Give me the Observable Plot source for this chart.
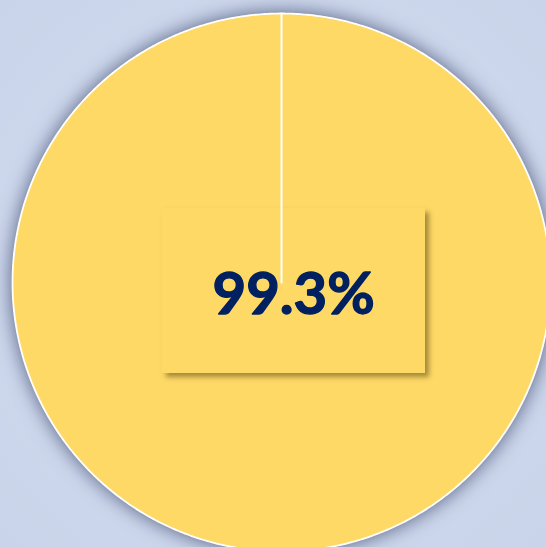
<!DOCTYPE html>
<html>
<head>
<meta charset="utf-8">
<script src="https://cdn.jsdelivr.net/npm/d3@7"></script>
<script src="https://cdn.jsdelivr.net/npm/@observablehq/plot@0.6"></script>
<style>
  html, body { margin: 0; padding: 0; }
  body { width: 546px; height: 547px; overflow: hidden; position: relative;
         background: radial-gradient(circle at 50% 50%, #d4ddf0 0%, #c9d4ea 100%); }
  .layer { position: absolute; left: 0; top: 0; }
  .layer svg { overflow: visible; }
  .pie { filter: drop-shadow(0 0 10px rgba(50, 62, 100, 0.85)); }
  #box { position: absolute; left: 162px; top: 208px; width: 263px; height: 165px;
         background: #ffd966; box-shadow: 4px 4px 5px rgba(90, 75, 20, 0.55); }
</style>
</head>
<body>
<script>
// Data
const categories = ["Share"];
const values = [99.3];
const labels = ["99.3%"];
const sliceColor = "#ffd966";

// Pie outline (full disc with its boundary at 12 o'clock)
const pts = [];
categories.forEach((c) => {
  const a0 = 0, a1 = 2 * Math.PI, n = 720;
  pts.push({cat: c, x: 0, y: 0});
  for (let k = 0; k <= n; k++) {
    const a = a0 + (a1 - a0) * k / n;
    pts.push({cat: c, x: Math.sin(a), y: Math.cos(a)});
  }
  pts.push({cat: c, x: 0, y: 0});
});
const rim = pts.slice(1, -1);
const radius = [{x: 0, y: 0}, {x: 0, y: 1}];

const W = 546, H = 547;
const cx = 281, cy = 282, R = 269;
const scales = {
  width: W, height: H, margin: 0,
  style: {background: "transparent", overflow: "visible"},
  x: {domain: [-1, 1], range: [cx - R, cx + R], axis: null},
  y: {domain: [-1, 1], range: [cy + R, cy - R], axis: null}
};

function addLayer(node) {
  const d = document.createElement("div");
  d.className = "layer";
  d.appendChild(node);
  document.body.appendChild(d);
}

// Layer 1: pie fill with shadow
addLayer(Plot.plot({...scales, marks: [
  Plot.line(pts, {x: "x", y: "y", z: "cat", fill: sliceColor, stroke: "none", curve: "linear", className: "pie"})
]}));

// Layer 2: label box
const box = document.createElement("div");
box.id = "box";
document.body.appendChild(box);

// Layer 3: slice boundary lines + label
addLayer(Plot.plot({...scales, marks: [
  Plot.line(rim, {x: "x", y: "y", stroke: "white", strokeWidth: 1.8, curve: "linear"}),
  Plot.line(radius, {x: "x", y: "y", stroke: "white", strokeWidth: 2}),
  Plot.text(labels, {x: () => 0.045, y: () => -0.048, text: d => d,
    fontSize: 58, fontWeight: "bold", fill: "#002060", stroke: "#002060", strokeWidth: 1.3,
    fontFamily: "Lato, 'Open Sans', sans-serif", textAnchor: "middle", lineAnchor: "middle"})
]}));
</script>
</body>
</html>
